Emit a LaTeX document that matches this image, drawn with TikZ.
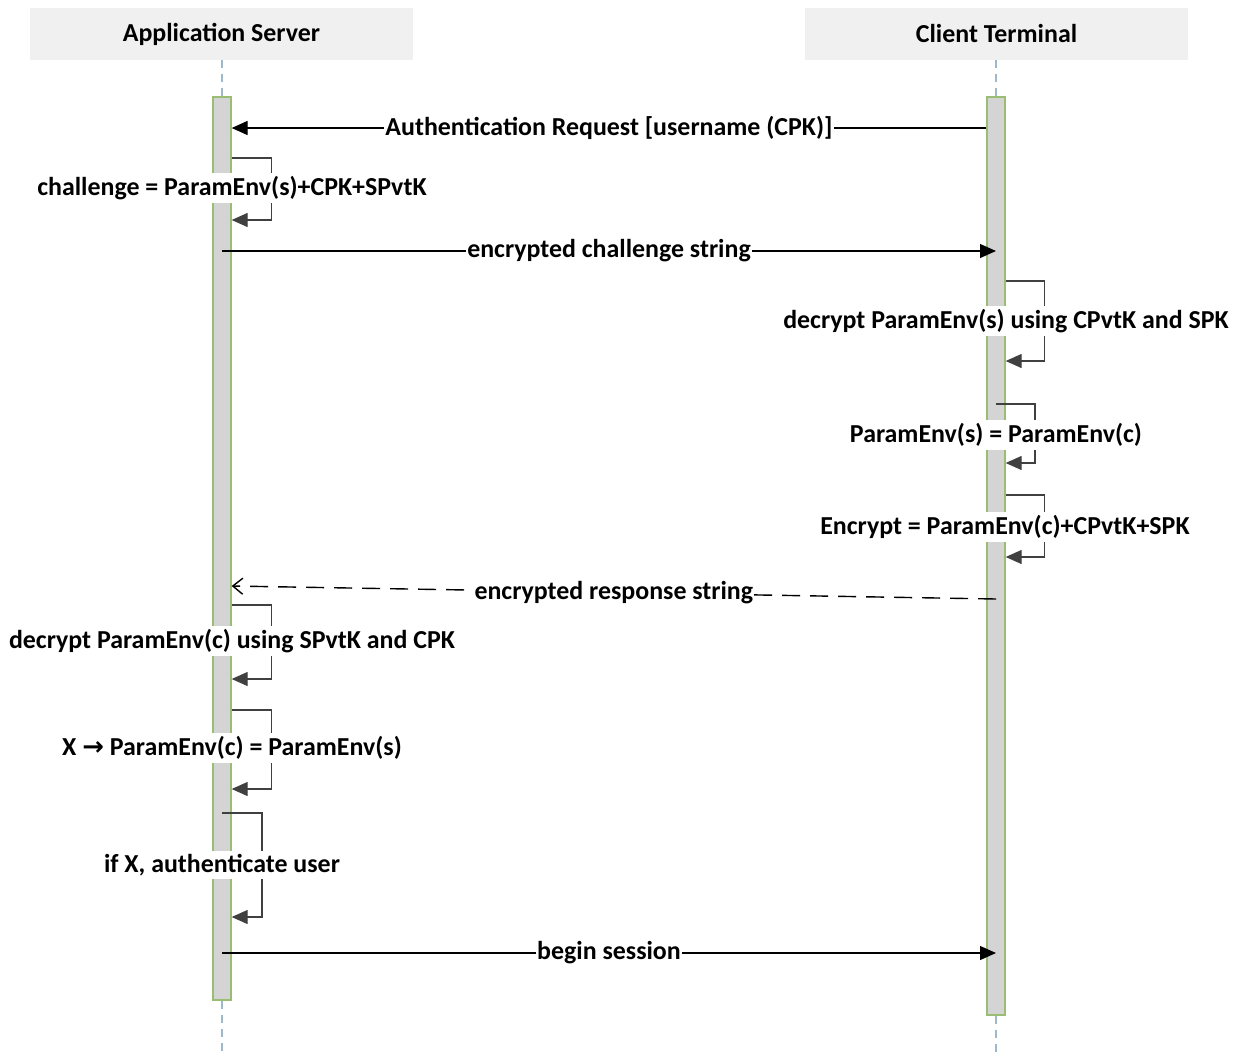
\documentclass[tikz,border=0pt]{standalone}
\usepackage{fontspec}
\setmainfont{Carlito}
\newfontfamily\arrowfont{DejaVu Sans}
\usetikzlibrary{arrows.meta}

\definecolor{headgray}{rgb}{0.94,0.94,0.94}
\definecolor{bargray}{rgb}{0.83,0.83,0.83}
\definecolor{bargreen}{rgb}{0.60,0.74,0.45}
\definecolor{lifeblue}{rgb}{0.62,0.72,0.80}
\definecolor{loopgray}{rgb}{0.25,0.25,0.25}

\tikzset{
  head/.style={fill=headgray, minimum width=383bp, minimum height=52bp, inner sep=0pt,
    font=\bfseries\fontsize{26}{30}\selectfont},
  actbar/.style={draw=bargreen, fill=bargray, line width=1.3bp, minimum width=18bp, inner sep=0pt},
  life/.style={draw=lifeblue, line width=1.3bp, dash pattern=on 8bp off 6bp},
  msg/.style={-{Triangle[length=16bp,width=14bp]}, line width=1.3bp},
  reply/.style={-{Straight Barb[length=10bp,width=16bp]}, line width=1.4bp, dash pattern=on 18bp off 10bp},
  selfmsg/.style={-{Triangle[length=16bp,width=14bp]}, draw=loopgray, line width=1.2bp},
  lbl/.style={fill=white, inner xsep=1bp, inner ysep=3bp, font=\bfseries\fontsize{26}{30}\selectfont},
}

\begin{document}
\begin{tikzpicture}[x=1bp,y=1bp,line join=miter]
\useasboundingbox (0,0) rectangle (1244,-1059);

% Node: heads
\node[head] (srv) at (221.5,-34) {Application Server};
\node[head] (cli) at (996.5,-34) {Client Terminal};

% Node: activation bars
\node[actbar, minimum height=903bp] (srvbar) at (222,-548.5) {};
\node[actbar, minimum height=918bp] (clibar) at (996,-556) {};
\coordinate (srvend) at (222,-1055);
\coordinate (cliend) at (996,-1055);

% Lifelines
\draw[life] (srv.south -| srvbar.north) -- (srvbar.north);
\draw[life] (srvbar.south) -- (srvend);
\draw[life] (cli.south -| clibar.north) -- (clibar.north);
\draw[life] (clibar.south) -- (cliend);

% Message: Client -> Server
\draw[msg] (clibar.west |- 0,-128) -- node[lbl] (m1) {Authentication Request [username (CPK)]} (srvbar.east |- 0,-128);

% Self: Server
\draw[selfmsg] (srvbar.east |- 0,-158) -- ++(40,0) |- (srvbar.east |- 0,-220);
\node[lbl] (s1) at (232,-188) {challenge = ParamEnv(s)+CPK+SPvtK};

% Message: Server -> Client
\draw[msg] (srvbar.center |- 0,-251) -- node[lbl] (m2) {encrypted challenge string} (clibar.center |- 0,-251);

% Self: Client
\draw[selfmsg] (clibar.east |- 0,-281) -- ++(39,0) |- (clibar.east |- 0,-361);
\node[lbl] (c1) at (1006,-321) {decrypt ParamEnv(s) using CPvtK and SPK};

\draw[selfmsg] (clibar.center |- 0,-404) -- ++(39,0) |- (clibar.east |- 0,-463);
\node[lbl] (c2) at (996,-435) {ParamEnv(s) = ParamEnv(c)};

\draw[selfmsg] (clibar.east |- 0,-495) -- ++(39,0) |- (clibar.east |- 0,-557);
\node[lbl] (c3) at (1005,-527) {Encrypt = ParamEnv(c)+CPvtK+SPK};

% Message: Client -> Server (reply)
\draw[reply] (clibar.center |- 0,-599) -- node[lbl] (m3) {encrypted response string} (srvbar.east |- 0,-586);

% Self: Server
\draw[selfmsg] (srvbar.east |- 0,-605) -- ++(40,0) |- (srvbar.east |- 0,-679);
\node[lbl] (s2) at (232,-641) {decrypt ParamEnv(c) using SPvtK and CPK};

\draw[selfmsg] (srvbar.east |- 0,-710) -- ++(40,0) |- (srvbar.east |- 0,-789);
\node[lbl] (s3) at (232,-748) {X {\arrowfont\bfseries\fontsize{26}{30}\selectfont →} ParamEnv(c) = ParamEnv(s)};

\draw[selfmsg] (srvbar.center |- 0,-813) -- ++(40,0) |- (srvbar.east |- 0,-917);
\node[lbl] (s4) at (222,-865) {if X, authenticate user};

% Message: Server -> Client
\draw[msg] (srvbar.center |- 0,-953) -- node[lbl] (m4) {begin session} (clibar.center |- 0,-953);
%
\end{tikzpicture}
\end{document}
